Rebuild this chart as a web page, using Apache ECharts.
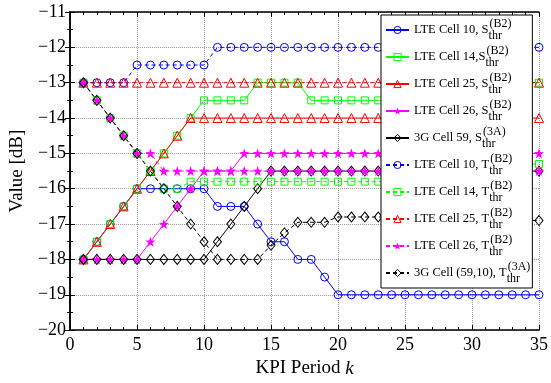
<!DOCTYPE html>
<html>
<head>
<meta charset="utf-8">
<script src="https://cdn.jsdelivr.net/npm/echarts@6/dist/echarts.min.js"></script>
<style>
  html, body { margin: 0; padding: 0; background: #fff; }
  #chart { width: 551px; height: 383px; }
</style>
</head>
<body>
<div id="chart"></div>
<script>
// KPI periods k = 1..35
const periods = [1, 2, 3, 4, 5, 6, 7, 8, 9, 10, 11, 12, 13, 14, 15, 16, 17, 18, 19, 20,
  21, 22, 23, 24, 25, 26, 27, 28, 29, 30, 31, 32, 33, 34, 35]

// S thresholds (solid lines)
const lte10S = [-18, -17.5, -17, -16.5, -16, -16, -16, -16, -16, -16, -16.5, -16.5, -16.5, -17, -17.5,
  -17.5, -18, -18, -18.5, -19, -19, -19, -19, -19, -19, -19, -19, -19, -19, -19, -19, -19, -19, -19, -19]
const lte14S = [-18, -17.5, -17, -16.5, -16, -15.5, -15, -14.5, -14, -13.5, -13.5, -13.5, -13.5, -13, -13,
  -13, -13, -13.5, -13.5, -13.5, -13.5, -13.5, -13.5, -13.5, -13.5, -13.5, -13.5, -13.5, -13.5, -13, -13, -13, -13, -13, -13]
const lte25S = [-18, -17.5, -17, -16.5, -16, -15.5, -15, -14.5, -14, -14, -14, -14, -14, -14, -14,
  -14, -14, -14, -14, -14, -14, -14, -14, -14, -14, -14, -14, -14, -14, -14, -14, -14, -14, -14, -14]
const lte26S = [-18, -18, -18, -18, -18, -17.5, -17, -16.5, -16, -15.5, -15.5, -15.5, -15, -15, -15,
  -15, -15, -15, -15, -15, -15, -15, -15, -15, -15, -15, -15, -15, -15, -15, -15, -15, -15, -15, -15]
const g59S = [-18, -18, -18, -18, -18, -18, -18, -18, -18, -18, -17.5, -17, -16.5, -16, -15.5,
  -15.5, -15.5, -15.5, -15.5, -15.5, -15.5, -15.5, -15.5, -15.5, -15.5, -15.5, -15.5, -15.5, -15.5, -15.5, -15.5, -15.5, -15.5, -15.5, -15.5]

// T thresholds (dashed lines)
const lte10T = [-13, -13, -13, -13, -12.5, -12.5, -12.5, -12.5, -12.5, -12.5, -12, -12, -12, -12, -12,
  -12, -12, -12, -12, -12, -12, -12, -12, -12, -12, -12, -12, -12, -12, -12, -12, -12, -12, -12, -12]
const lte14T = [-13, -13.5, -14, -14.5, -15, -15.5, -16, -16, -15.8, -15.8, -15.8, -15.8, -15.8, -15.8, -15.8,
  -15.8, -15.8, -15.8, -15.8, -15.8, -15.8, -15.8, -15.8, -15.8, -15.8, -15.8, -15.8, -15.8, -15.8, -15.3, -15.3, -15.3, -15.3, -15.3, -15.3]
const lte25T = [-13, -13, -13, -13, -13, -13, -13, -13, -13, -13, -13, -13, -13, -13, -13,
  -13, -13, -13, -13, -13, -13, -13, -13, -13, -13, -13, -13, -13, -13, -13, -13, -13, -13, -13, -13]
const lte26T = [-13, -13.5, -14, -14.5, -15, -15, -15.5, -15.5, -15.5, -15.5, -15.5, -15.5, -15.5, -15.5, -15.5,
  -15.5, -15.5, -15.5, -15.5, -15.5, -15.5, -15.5, -15.5, -15.5, -15.5, -15.5, -15.5, -15.5, -15.5, -15.5, -15.5, -15.5, -15.5, -15.5, -15.5]
const g59T = [-13, -13.5, -14, -14.5, -15, -15.5, -16, -16.5, -17, -17.5, -18, -18, -18, -18, -17.6,
  -17.25, -16.95, -16.95, -16.95, -16.8, -16.8, -16.8, -16.8, -16.8, -16.8, -16.8, -16.8, -16.8, -16.8, -16.9, -16.9, -16.9, -16.9, -16.9, -16.9]

const legendMain = ['LTE Cell 10, S', 'LTE Cell 14,S', 'LTE Cell 25, S', 'LTE Cell 26, S', '3G Cell 59, S',
  'LTE Cell 10, T', 'LTE Cell 14, T', 'LTE Cell 25, T', 'LTE Cell 26, T', '3G Cell (59,10), T']
const legendSup = ['(B2)', '(B2)', '(B2)', '(B2)', '(3A)', '(B2)', '(B2)', '(B2)', '(B2)', '(3A)']

const xTicks = [0, 5, 10, 15, 20, 25, 30, 35]
const yTicks = [-20, -19, -18, -17, -16, -15, -14, -13, -12, -11]

const SERIF = 'Liberation Serif'
const STAR = 'path://M0,-10L2.35,-3.24L9.51,-3.09L3.8,1.24L5.88,8.09L0,4L-5.88,8.09L-3.8,1.24L-9.51,-3.09L-2.35,-3.24Z'

const styles = [
  { values: lte10S, color: '#0000ff', symbol: 'circle', size: 8, dashed: false },
  { values: lte14S, color: '#00ff00', symbol: 'rect', size: 7, dashed: false },
  { values: lte25S, color: '#ff0000', symbol: 'triangle', size: 9, dashed: false },
  { values: lte26S, color: '#ff00ff', symbol: STAR, size: 10, dashed: false, filled: true },
  { values: g59S, color: '#000000', symbol: 'diamond', size: [8, 10], dashed: false },
  { values: lte10T, color: '#0000ff', symbol: 'circle', size: 8, dashed: true },
  { values: lte14T, color: '#00ff00', symbol: 'rect', size: 7, dashed: true },
  { values: lte25T, color: '#ff0000', symbol: 'triangle', size: 9, dashed: true },
  { values: lte26T, color: '#ff00ff', symbol: STAR, size: 10, dashed: true, filled: true },
  { values: g59T, color: '#000000', symbol: 'diamond', size: [8, 10], dashed: true }
]

function minus (v) {
  return v < 0 ? '\u2212' + (-v) : String(v)
}

const series = styles.map((s, i) => ({
  name: 's' + i,
  type: 'line',
  data: periods.map((k, j) => [k, s.values[j]]),
  symbol: s.symbol,
  symbolSize: s.size,
  showAllSymbol: true,
  lineStyle: { color: s.color, width: 1, type: s.dashed ? [4, 3] : 'solid' },
  itemStyle: s.filled
    ? { color: s.color }
    : { color: 'rgba(255,255,255,0)', borderColor: s.color, borderWidth: 1 },
  emphasis: { disabled: true }
}))

const tickCommon = {
  axisLine: { show: true, lineStyle: { color: '#000', width: 1.5 } },
  axisTick: { show: true, inside: true, length: 5, lineStyle: { color: '#000' } }
}

const chart = echarts.init(document.getElementById('chart'), null, { renderer: 'canvas' })
chart.setOption({
  animation: false,
  backgroundColor: '#fff',
  grid: { left: 67, right: 8, top: 12, bottom: 40 },
  xAxis: [
    {
      type: 'value',
      min: xTicks[0],
      max: xTicks[xTicks.length - 1],
      interval: 5,
      axisLine: tickCommon.axisLine,
      axisTick: tickCommon.axisTick,
      minorTick: { show: true, splitNumber: 5, length: 3, lineStyle: { color: '#000' } },
      splitLine: { show: true, lineStyle: { color: '#9a9a9a', type: 'dotted', width: 1 } },
      axisLabel: { fontFamily: SERIF, fontSize: 18, color: '#000', margin: 6 },
      name: 'KPI Period {i|k}',
      nameLocation: 'middle',
      nameGap: 21,
      nameTextStyle: {
        fontFamily: SERIF, fontSize: 19, color: '#000',
        rich: { i: { fontFamily: SERIF, fontSize: 19, fontStyle: 'italic', color: '#000' } }
      }
    },
    {
      type: 'value',
      position: 'top',
      min: xTicks[0],
      max: xTicks[xTicks.length - 1],
      interval: 5,
      axisLine: tickCommon.axisLine,
      axisTick: tickCommon.axisTick,
      minorTick: { show: true, splitNumber: 5, length: 3, lineStyle: { color: '#000' } },
      axisLabel: { show: false },
      splitLine: { show: false }
    }
  ],
  yAxis: [
    {
      type: 'value',
      min: yTicks[0],
      max: yTicks[yTicks.length - 1],
      interval: 1,
      axisLine: tickCommon.axisLine,
      axisTick: tickCommon.axisTick,
      minorTick: { show: true, splitNumber: 2, length: 3, lineStyle: { color: '#000' } },
      splitLine: { show: true, lineStyle: { color: '#9a9a9a', type: 'dotted', width: 1 } },
      axisLabel: { fontFamily: SERIF, fontSize: 18, color: '#000', margin: 4, formatter: minus },
      name: 'Value [dB]',
      nameLocation: 'middle',
      nameGap: 37,
      nameTextStyle: { fontFamily: SERIF, fontSize: 19, color: '#000' }
    },
    {
      type: 'value',
      position: 'right',
      min: yTicks[0],
      max: yTicks[yTicks.length - 1],
      interval: 1,
      axisLine: tickCommon.axisLine,
      axisTick: tickCommon.axisTick,
      minorTick: { show: true, splitNumber: 2, length: 3, lineStyle: { color: '#000' } },
      axisLabel: { show: false },
      splitLine: { show: false }
    }
  ],
  legend: {
    orient: 'vertical',
    left: 381,
    top: 15,
    padding: [3, 2, 3, 4],
    itemGap: 3,
    itemWidth: 23,
    itemHeight: 9,
    selectedMode: false,
    backgroundColor: '#fff',
    borderColor: '#000',
    borderWidth: 1,
    itemStyle: { borderWidth: 1 },
    data: series.map(s => s.name),
    formatter: (name) => {
      const i = Number(name.slice(1))
      return '{m|' + legendMain[i] + '}{b|thr}{p|' + legendSup[i] + '}'
    },
    textStyle: {
      fontFamily: SERIF,
      fontSize: 12.5,
      color: '#000',
      rich: {
        m: { fontFamily: SERIF, fontSize: 12.5, color: '#000', lineHeight: 24 },
        b: { fontFamily: SERIF, fontSize: 12, color: '#000', lineHeight: 11, verticalAlign: 'bottom', width: 1 },
        p: { fontFamily: SERIF, fontSize: 12, color: '#000', lineHeight: 12, verticalAlign: 'top' }
      }
    }
  },
  series: series
})
</script>
</body>
</html>
